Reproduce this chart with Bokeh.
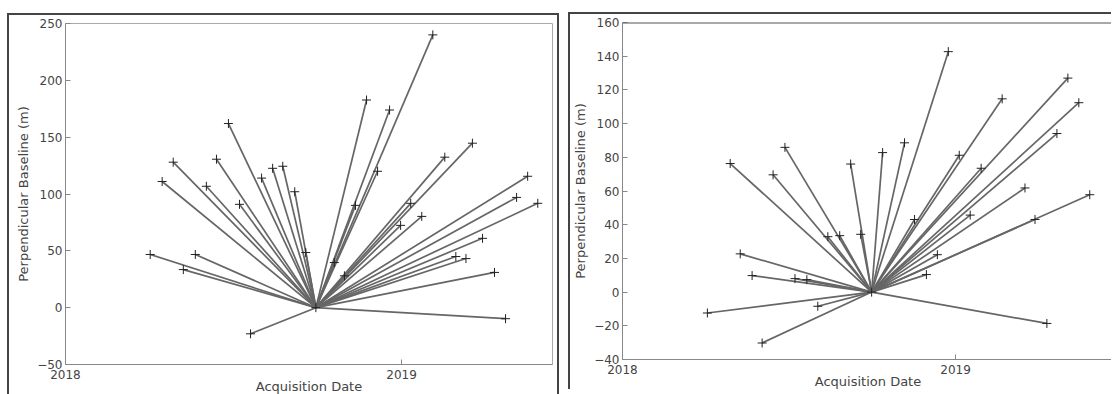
import pandas as pd
from bokeh.plotting import figure
from bokeh.layouts import row
from bokeh.models import ColumnDataSource, FixedTicker, DatetimeTickFormatter, Range1d, Span
from bokeh.embed import file_html
from bokeh.resources import INLINE

# ---------------- data ----------------
x_tick_years = [2018, 2019]
x_start = "2018-01-01"

left_master_date = "2018-09-30"
left_dates = [
    "2018-04-03", "2018-04-16", "2018-04-28", "2018-05-09", "2018-05-22", "2018-06-03",
    "2018-06-14", "2018-06-27", "2018-07-09", "2018-07-21", "2018-08-02", "2018-08-14",
    "2018-08-25", "2018-09-07", "2018-09-19", "2018-10-20", "2018-10-31", "2018-11-12",
    "2018-11-24", "2018-12-06", "2018-12-19", "2018-12-31", "2019-01-11", "2019-01-23",
    "2019-02-04", "2019-02-17", "2019-03-01", "2019-03-12", "2019-03-19", "2019-03-30",
    "2019-04-12", "2019-04-24", "2019-05-06", "2019-05-18", "2019-05-29",
]
left_baselines = [
    46.8, 111, 128, 33.5, 46.8, 106.8,
    130.6, 162, 90.9, -23, 114, 122.6,
    124.4, 102, 48.5, 39.7, 28, 90,
    182.7, 120, 173.9, 72.4, 91.8, 80.3,
    240, 132.4, 45, 43.2, 144.7, 61,
    31, -9.7, 97, 115.6, 91.8,
]
left_x_end = "2019-06-14"
left_y_ticks = [-50, 0, 50, 100, 150, 200, 250]

right_master_date = "2018-10-01"
right_dates = [
    "2018-04-04", "2018-04-29", "2018-05-10", "2018-05-23", "2018-06-03", "2018-06-15",
    "2018-06-28", "2018-07-09", "2018-07-22", "2018-08-03", "2018-08-14", "2018-08-27",
    "2018-09-08", "2018-09-19", "2018-10-13", "2018-11-06", "2018-11-17", "2018-11-30",
    "2018-12-12", "2018-12-24", "2019-01-05", "2019-01-17", "2019-01-29", "2019-02-21",
    "2019-03-18", "2019-03-29", "2019-04-11", "2019-04-22", "2019-05-04", "2019-05-16",
    "2019-05-28",
]
right_baselines = [
    -12.4, 76.3, 22.7, 9.8, -30.2, 69.6,
    85.9, 8.0, 7.4, -8.4, 32.9, 33.5,
    76, 34.3, 82.8, 88.6, 43.1, 10.4,
    22.2, 142.7, 81.2, 45.7, 73.5, 114.7,
    61.8, 43.1, -18.6, 94.1, 127, 112.4,
    57.8,
]
right_x_end = "2019-06-23"
right_y_ticks = [-40, -20, 0, 20, 40, 60, 80, 100, 120, 140, 160]

x_label = "Acquisition Date"
y_label = "Perpendicular Baseline (m)"

FONT = "DejaVu Sans"


def ms(s):
    return pd.Timestamp(s).value / 1e6


def make(dates, base, master, x_end, y_ticks, width, height, bl, bt, br, outline):
    n = len(dates)
    p = figure(width=width, height=height, output_backend="svg", toolbar_location=None,
               x_axis_type="datetime",
               x_range=Range1d(ms(x_start), ms(x_end)),
               y_range=Range1d(y_ticks[0], y_ticks[-1]),
               min_border_left=bl, min_border_top=bt, min_border_right=br,
               min_border_bottom=10)
    src = ColumnDataSource(dict(
        x=pd.to_datetime(dates), y=base,
        x0=pd.to_datetime([master] * n), y0=[0] * n,
    ))
    p.segment(x0="x0", y0="y0", x1="x", y1="y", source=src,
              line_color="#666666", line_width=1.7)
    p.scatter("x", "y", source=src, marker="cross", size=9,
              line_color="#222222", line_width=1)
    p.scatter(pd.to_datetime([master]), [0], marker="cross", size=9,
              line_color="#222222", line_width=1)

    p.xgrid.visible = False
    p.ygrid.visible = False
    p.xaxis.ticker = FixedTicker(ticks=[ms(f"{y}-01-01") for y in x_tick_years])
    p.xaxis.formatter = DatetimeTickFormatter(
        years="%Y", months="%Y", days="%Y", hours="%Y", hourmin="%Y",
        minutes="%Y", minsec="%Y", seconds="%Y", milliseconds="%Y")
    p.yaxis.ticker = FixedTicker(ticks=y_ticks)
    for ax in (p.xaxis[0], p.yaxis[0]):
        ax.major_tick_in = 5
        ax.major_tick_out = 0
        ax.minor_tick_line_color = None
        ax.axis_line_color = "#888888"
        ax.major_tick_line_color = "#888888"
        ax.major_label_text_color = "#444444"
        ax.major_label_text_font = FONT
        ax.major_label_text_font_size = "12px"
        ax.axis_label_text_font = FONT
        ax.axis_label_text_font_size = "13px"
        ax.axis_label_text_font_style = "normal"
        ax.axis_label_text_color = "#444444"
    p.xaxis.axis_label = x_label
    p.yaxis.axis_label = y_label
    p.xaxis.major_label_standoff = 5
    p.xaxis.axis_label_standoff = -3
    p.yaxis.major_label_standoff = 3
    p.yaxis.axis_label_standoff = 3
    if outline:
        p.outline_line_color = "#aaaaaa"
        p.outline_line_width = 1
    else:
        p.outline_line_color = None
        p.add_layout(Span(location=y_ticks[-1], dimension="width",
                          line_color="#555555", line_width=2))
    return p


p1 = make(left_dates, left_baselines, left_master_date, left_x_end, left_y_ticks,
          552, 381, 56, 8, 9, True)
p1.styles = {"border": "2px solid #444444", "border-bottom": "none"}
p1.margin = (13, 0, 0, 7)

p2 = make(right_dates, right_baselines, right_master_date, right_x_end, right_y_ticks,
          543, 377, 48, 0, 0, False)
p2.styles = {"border": "2px solid #444444", "border-bottom": "none", "border-right": "none"}
p2.margin = (12, 0, 0, 9)

layout = row(p1, p2)

open("out.html", "w").write(file_html(layout, INLINE))
